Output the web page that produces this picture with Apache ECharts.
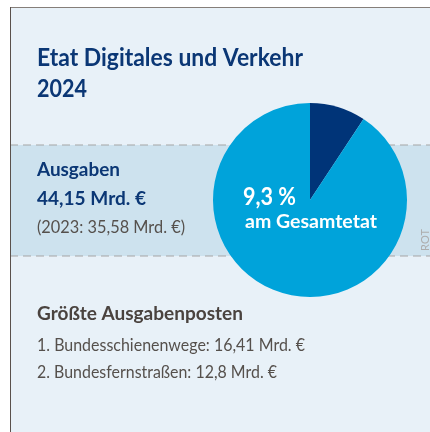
<!DOCTYPE html>
<html lang="de">
<head>
    <meta charset="UTF-8">
    <title>Etat Digitales und Verkehr 2024</title>
    <script src="https://cdn.jsdelivr.net/npm/echarts@6.0.0/dist/echarts.min.js"></script>
    <style>
        html, body { margin: 0; padding: 0; background: #fff; }
    </style>
</head>
<body>
    <div id="main" style="width: 430px;height:432px;"></div>

    <script>
        // Anteil am Gesamtetat (%)
        var sliceNames = ['Digitales und Verkehr', 'Rest'];
        var sliceValues = [9.3, 90.7];
        var sliceColors = ['#003478', '#00a3da'];

        var titleLines = ['Etat Digitales und Verkehr', '2024'];
        var spendLines = ['Ausgaben', '44,15 Mrd. €', '(2023: 35,58 Mrd. €)'];
        var shareLines = ['9,3 %', 'am Gesamtetat'];
        var topItemsTitle = 'Größte Ausgabenposten';
        var topItems = ['1. Bundesschienenwege: 16,41 Mrd. €', '2. Bundesfernstraßen: 12,8 Mrd. €'];

        var darkBlue = '#0b3775';
        var brown = '#4a433f';

        // Die Vorlage nutzt eine schmale Schrift: Lato wird horizontal gestaucht
        var ctx = document.createElement('canvas').getContext('2d');
        function txt(text, x, y, size, bold, width, color, z) {
            var font = (bold ? 'bold ' : '') + size + 'px Lato, sans-serif';
            ctx.font = font;
            var w = ctx.measureText(text).width;
            return {
                type: 'text', z: z || 5, x: x, y: y, scaleX: width / w,
                style: { text: text, font: font, fill: color, align: 'left', verticalAlign: 'middle' }
            };
        }

        var myChart = echarts.init(document.getElementById('main'));

        var option = {
            backgroundColor: '#ffffff',
            animation: false,
            graphic: [
                // Kasten
                { type: 'rect', z: 0, shape: { x: 10, y: 7, width: 420, height: 425 }, style: { fill: '#e8f1f8' } },
                { type: 'rect', z: 0, shape: { x: 10, y: 145, width: 420, height: 111 }, style: { fill: '#cde2ee' } },
                { type: 'line', z: 1, shape: { x1: 10, y1: 145, x2: 430, y2: 145 }, style: { stroke: '#a5a5a5', lineWidth: 1, lineDash: [8, 5] } },
                { type: 'line', z: 1, shape: { x1: 10, y1: 256, x2: 430, y2: 256 }, style: { stroke: '#a5a5a5', lineWidth: 1, lineDash: [8, 5] } },
                { type: 'line', z: 1, shape: { x1: 10, y1: 7.5, x2: 430, y2: 7.5 }, style: { stroke: '#857e79', lineWidth: 1 } },
                { type: 'line', z: 1, shape: { x1: 10.5, y1: 7, x2: 10.5, y2: 432 }, style: { stroke: '#5a514c', lineWidth: 1 } },

                txt(titleLines[0], 37, 58, 25, true, 266, darkBlue),
                txt(titleLines[1], 37, 89, 25, true, 50, darkBlue),

                txt(spendLines[0], 37, 170, 19, true, 83, darkBlue),
                txt(spendLines[1], 37, 199, 19.5, true, 109, darkBlue),
                txt(spendLines[2], 37, 227.5, 16.5, false, 148, '#55504c'),

                txt(shareLines[0], 243, 196.5, 25, true, 53, '#ffffff', 10),
                txt(shareLines[1], 245, 222, 19.5, true, 132, '#ffffff', 10),

                {
                    type: 'text', z: 5, x: 425, y: 240, rotation: Math.PI / 2,
                    style: { text: 'ROT', font: '11px Lato, sans-serif', fill: '#adadad', align: 'center', verticalAlign: 'middle' }
                },

                txt(topItemsTitle, 37, 313.7, 19.5, true, 206, brown),
                txt(topItems[0], 37, 344.7, 18, false, 268, '#55504c'),
                txt(topItems[1], 37, 371.7, 18, false, 240, '#55504c')
            ],
            series: [
                {
                    name: 'Gesamtetat',
                    type: 'pie',
                    center: [310, 200],
                    radius: [0, 97],
                    startAngle: 90,
                    clockwise: true,
                    label: { show: false },
                    labelLine: { show: false },
                    emphasis: { disabled: true },
                    itemStyle: { borderWidth: 0 },
                    data: sliceNames.map(function (name, i) {
                        return { name: name, value: sliceValues[i], itemStyle: { color: sliceColors[i] } };
                    })
                }
            ]
        };

        myChart.setOption(option);
    </script>
</body>
</html>
